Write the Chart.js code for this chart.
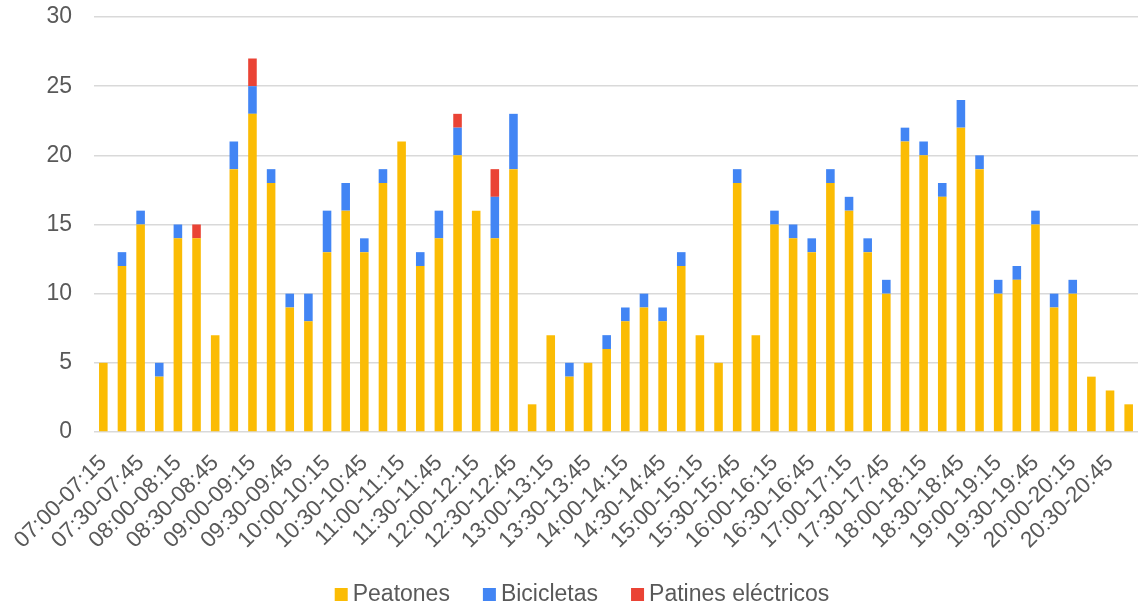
<!DOCTYPE html>
<html>
<head>
<meta charset="utf-8">
<script src="https://cdn.jsdelivr.net/npm/chart.js@4/dist/chart.umd.min.js"></script>
<style>
  html, body { margin:0; padding:0; background:#fff; }
  #wrap { width:1138px; height:610px; }
</style>
</head>
<body>
<div id="wrap"><canvas id="c" width="1138" height="610"></canvas></div>
<script>
"use strict";

// 15-minute slots, 07:00 to 21:00
const slots = [
  "07:00-07:15","07:15-07:30","07:30-07:45","07:45-08:00",
  "08:00-08:15","08:15-08:30","08:30-08:45","08:45-09:00",
  "09:00-09:15","09:15-09:30","09:30-09:45","09:45-10:00",
  "10:00-10:15","10:15-10:30","10:30-10:45","10:45-11:00",
  "11:00-11:15","11:15-11:30","11:30-11:45","11:45-12:00",
  "12:00-12:15","12:15-12:30","12:30-12:45","12:45-13:00",
  "13:00-13:15","13:15-13:30","13:30-13:45","13:45-14:00",
  "14:00-14:15","14:15-14:30","14:30-14:45","14:45-15:00",
  "15:00-15:15","15:15-15:30","15:30-15:45","15:45-16:00",
  "16:00-16:15","16:15-16:30","16:30-16:45","16:45-17:00",
  "17:00-17:15","17:15-17:30","17:30-17:45","17:45-18:00",
  "18:00-18:15","18:15-18:30","18:30-18:45","18:45-19:00",
  "19:00-19:15","19:15-19:30","19:30-19:45","19:45-20:00",
  "20:00-20:15","20:15-20:30","20:30-20:45","20:45-21:00"
];

const peatones = [
  5,12,15,4, 14,14,7,19, 23,18,9,8, 13,16,13,18,
  21,12,14,20, 16,14,19,2, 7,4,5,6, 8,9,8,12,
  7,5,18,7, 15,14,13,18, 16,13,10,21, 20,17,22,19,
  10,11,15,9, 10,4,3,2
];
const bicicletas = [
  0,1,1,1, 1,0,0,2, 2,1,1,2, 3,2,1,1,
  0,1,2,2, 0,3,4,0, 0,1,0,1, 1,1,1,1,
  0,0,1,0, 1,1,1,1, 1,1,1,1, 1,1,2,1,
  1,1,1,1, 1,0,0,0
];
const patines = [
  0,0,0,0, 0,1,0,0, 2,0,0,0, 0,0,0,0,
  0,0,0,1, 0,2,0,0, 0,0,0,0, 0,0,0,0,
  0,0,0,0, 0,0,0,0, 0,0,0,0, 0,0,0,0,
  0,0,0,0, 0,0,0,0
];

const YELLOW = "#FBBC04";
const BLUE   = "#4285F4";
const RED    = "#EA4335";
const GRID   = "#D9D9D9";
const TEXT   = "#595959";
const FONT   = "'Liberation Sans', Arial, sans-serif";

const bar = { barPercentage:0.46, categoryPercentage:1, borderWidth:0 };

// legend drawn by hand: Excel-like spacing (small box-text gap, wide item gap)
const bottomLegend = {
  id: "bottomLegend",
  afterDraw(chart) {
    const ctx = chart.ctx;
    const items = chart.data.datasets.map(d => ({ text: d.label, color: d.backgroundColor }));
    const box = 13, gap = 5, itemGap = 33, baseline = 601, centerX = 582;
    ctx.save();
    ctx.font = "23px " + FONT;
    const widths = items.map(it => ctx.measureText(it.text).width);
    const total = widths.reduce((a, w) => a + box + gap + w, 0) + itemGap * (items.length - 1);
    let x = centerX - total / 2;
    ctx.textBaseline = "alphabetic";
    ctx.textAlign = "left";
    items.forEach((it, i) => {
      ctx.fillStyle = it.color;
      ctx.fillRect(x, baseline - box, box, box);
      ctx.fillStyle = TEXT;
      ctx.fillText(it.text, x + box + gap, baseline);
      x += box + gap + widths[i] + itemGap;
    });
    ctx.restore();
  }
};

new Chart(document.getElementById("c"), {
  type: "bar",
  data: {
    labels: slots,
    datasets: [
      { label:"Peatones",           data: peatones,   backgroundColor: YELLOW, ...bar },
      { label:"Bicicletas",         data: bicicletas, backgroundColor: BLUE,   ...bar },
      { label:"Patines eléctricos", data: patines,    backgroundColor: RED,    ...bar }
    ]
  },
  plugins: [bottomLegend],
  options: {
    responsive:false,
    animation:false,
    layout:{ padding:{ top:17, right:0, bottom:46, left:0 } },
    plugins:{
      tooltip:{ enabled:false },
      legend:{ display:false }
    },
    scales:{
      x:{
        stacked:true,
        afterFit:(s)=>{ s.paddingLeft = 0; s.paddingRight = 0; },
        grid:{ display:false },
        border:{ display:false },
        ticks:{
          color:TEXT, font:{ family:FONT, size:22.5 },
          autoSkip:false, minRotation:45, maxRotation:45, padding:10,
          callback:(v,i)=> i%2===0 ? slots[i] : ""
        }
      },
      y:{
        stacked:true, min:0, max:30,
        afterFit:(s)=>{ s.width = 94; s.paddingTop = 0; s.paddingBottom = 0; },
        grid:{ color:GRID, lineWidth:1.5, drawTicks:false },
        border:{ display:false },
        ticks:{ stepSize:5, padding:22, color:TEXT, font:{ family:FONT, size:23 } }
      }
    }
  }
});
</script>
</body>
</html>
